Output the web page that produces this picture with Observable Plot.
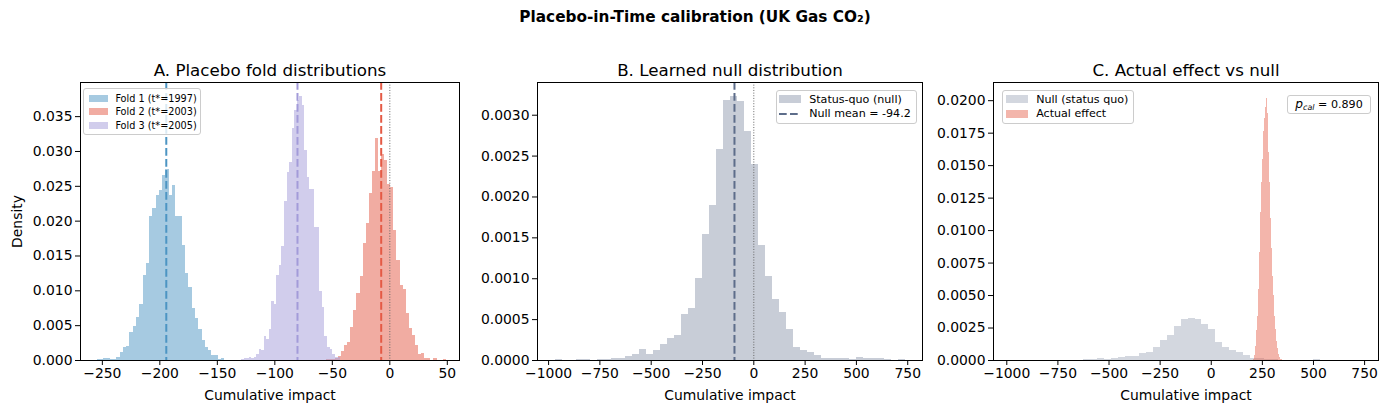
<!DOCTYPE html>
<html>
<head>
<meta charset="utf-8">
<script src="https://cdn.jsdelivr.net/npm/d3@7"></script>
<script src="https://cdn.jsdelivr.net/npm/@observablehq/plot@0.6"></script>
<style>
  body { margin: 0; background: #fff; font-family: "DejaVu Sans", sans-serif; }
  #fig { position: relative; width: 1390px; height: 413px; overflow: hidden; background: #fff; }
  .panel { position: absolute; top: 0; }
  .suptitle { position: absolute; top: 8px; left: 0; width: 1390px; text-align: center; font-weight: bold; font-size: 15.3px; line-height: 18px; }
  .legend { position: absolute; background: rgba(255,255,255,0.8); border: 1px solid #cccccc; border-radius: 3px; box-sizing: border-box; }
  .legend .row { position: absolute; display: flex; align-items: center; white-space: nowrap; }
  .pbox { position: absolute; background: rgba(255,255,255,0.8); border: 1px solid #cccccc; border-radius: 3px; box-sizing: border-box; font-size: 11.1px; white-space: nowrap; text-align: center; }
</style>
</head>
<body>
<div id="fig"></div>
<script>
// ---------------- data ----------------
const suptitle = "Placebo-in-Time calibration (UK Gas CO\u2082)";
const panelTitles = ["A. Placebo fold distributions", "B. Learned null distribution", "C. Actual effect vs null"];
const xLabel = "Cumulative impact";
const yLabel = "Density";

const foldLabels = ["Fold 1 (t*=1997)", "Fold 2 (t*=2003)", "Fold 3 (t*=2005)"];
const foldMeans = [-194.4, -7.5, -80.3];

const fold1Start = -254.5, fold1Width = 2.85;
const fold1Density = [0.0001, 0.0001, 0.0003, 0.0003, 0.0001, 0.0001, 0.0004, 0.0011, 0.0019, 0.0020,
  0.0040, 0.0049, 0.0062, 0.0080, 0.0122, 0.0139, 0.0207, 0.0218, 0.0237, 0.0244,
  0.0266, 0.0274, 0.0237, 0.0251, 0.0207, 0.0206, 0.0165, 0.0125, 0.0105, 0.0075,
  0.0060, 0.0044, 0.0029, 0.0019, 0.0015, 0.0007, 0.0007, 0.0002, 0.0003];

const fold2Start = -55.4, fold2Width = 2.68;
const fold2Density = [0.0001, 0.0001, 0.0002, 0.0003, 0.0006, 0.0013, 0.0022, 0.0026, 0.0047, 0.0072,
  0.0096, 0.0120, 0.0168, 0.0197, 0.0240, 0.0271, 0.0318, 0.0271, 0.0296, 0.0287,
  0.0252, 0.0249, 0.0187, 0.0143, 0.0108, 0.0102, 0.0068, 0.0046, 0.0036, 0.0022,
  0.0009, 0.0010, 0.0003, 0.0003, 0, 0.0003, 0, 0, 0.0001];

const fold3Start = -128.97, fold3Width = 2.2;
const fold3Density = [0.00014, 0.0003, 0.0003, 0.0004, 0.0003, 0.0004, 0.0009, 0.0016, 0.0014, 0.0034,
  0.0030, 0.0044, 0.0085, 0.0080, 0.0122, 0.0136, 0.0164, 0.0228, 0.0270, 0.0284,
  0.0333, 0.0359, 0.0373, 0.0379, 0.0366, 0.0301, 0.0263, 0.0245, 0.0245, 0.0191,
  0.0191, 0.0099, 0.0076, 0.0035, 0.0019, 0.0016, 0.0009, 0.0004, 0.0004];

const nullStart = -966, nullWidth = 34.1;
const nullDensity = [0.00001, 0, 0, 0.00001, 0.00001, 0, 0.00001, 0.00001, 0.00002, 0.00002,
  0.00005, 0.00007, 0.000135, 0.00007, 0.00012, 0.0002, 0.00027, 0.0003, 0.00056, 0.00063,
  0.0010, 0.00154, 0.0019, 0.00258, 0.00318, 0.00323, 0.00317, 0.0028, 0.0024, 0.00141,
  0.00103, 0.00074, 0.00059, 0.00038, 0.00016, 0.00012, 0.0001, 0.00006, 0.00003, 0.00003,
  0.00002, 0.00002, 0.00001, 0.00004, 0.00002, 0.00002, 0.00002, 0.00001, 0, 0.00001];
const nullMean = -94.2;

const actualStart = 208.3, actualWidth = 4.885;
const actualDensity = [0.0001, 0.0004, 0.0011, 0.0023, 0.0034, 0.0055, 0.0083, 0.0114, 0.0137, 0.0155,
  0.0176, 0.0186, 0.0195, 0.0202, 0.0190, 0.0160, 0.0137, 0.0109, 0.0086, 0.0065,
  0.0050, 0.0034, 0.0024, 0.0015, 0.0009, 0.0005, 0.0002, 0.0001, 0.0001];

const pCal = "0.890";
const legendB = ["Status-quo (null)", `Null mean = ${nullMean}`];
const legendC = ["Null (status quo)", "Actual effect"];

const xTicksA = [-250, -200, -150, -100, -50, 0, 50];
const yTicksA = [0, 0.005, 0.010, 0.015, 0.020, 0.025, 0.030, 0.035];
const xTicksBC = [-1000, -750, -500, -250, 0, 250, 500, 750];
const yTicksB = [0, 0.0005, 0.0010, 0.0015, 0.0020, 0.0025, 0.0030];
const yTicksC = [0, 0.0025, 0.0050, 0.0075, 0.0100, 0.0125, 0.0150, 0.0175, 0.0200];

// ---------------- styles ----------------
const foldColors = ["#4d95c3", "#e45a45", "#a39bd9"];
const foldAlpha = 0.5;
const nullColor = "#5d6d8a";
const actualColor = "#e45a45";

function toBins(start, width, dens) {
  return dens.map((d, i) => ({x1: start + i * width, x2: start + (i + 1) * width, d}));
}

const fig = document.getElementById("fig");
const st = document.createElement("div");
st.className = "suptitle";
st.textContent = suptitle;
fig.appendChild(st);

const FONT = "DejaVu Sans";
const common = {
  height: 413, marginTop: 82, marginBottom: 53,
  style: {fontFamily: FONT, fontSize: "13.9px", color: "black", background: "transparent", overflow: "visible"}
};
function xAxis(ticks) {
  return Plot.axisX({ticks, tickFormat: d3.format("d"), tickSize: 5, tickPadding: 3, fontSize: 13.9,
    label: xLabel, labelAnchor: "center", labelArrow: "none", labelOffset: 39});
}
function yAxis(ticks, fmt, label) {
  return Plot.axisY({ticks, tickFormat: d3.format(fmt), tickSize: 5, tickPadding: 3, fontSize: 13.9,
    label: label, labelAnchor: "center", labelArrow: "none", labelOffset: 68});
}
function titleMark(t) {
  return Plot.text([t], {frameAnchor: "top", lineAnchor: "bottom", dy: -7, fontSize: 16.7});
}
function hist(bins, color, alpha) {
  return Plot.rectY(bins, {x1: "x1", x2: "x2", y: "d", fill: color, fillOpacity: alpha, inset: 0, shapeRendering: "crispEdges"});
}

// Panel A
const panelA = Plot.plot({
  ...common, width: 490, marginLeft: 80, marginRight: 31,
  x: {domain: [-269, 60.6]},
  y: {domain: [0, 0.0399]},
  marks: [
    hist(toBins(fold1Start, fold1Width, fold1Density), foldColors[0], foldAlpha),
    hist(toBins(fold2Start, fold2Width, fold2Density), foldColors[1], foldAlpha),
    hist(toBins(fold3Start, fold3Width, fold3Density), foldColors[2], foldAlpha),
    Plot.ruleX(foldMeans.map((m, i) => ({m, c: foldColors[i]})), {x: "m", stroke: d => d.c, strokeWidth: 2, strokeDasharray: "7.7,3.3"}),
    Plot.ruleX([0], {stroke: "#666", strokeWidth: 1, strokeDasharray: "1,1.65"}),
    Plot.frame({stroke: "black", strokeWidth: 1}),
    xAxis(xTicksA),
    yAxis(yTicksA, ".3f", yLabel),
    titleMark(panelTitles[0])
  ]
});
panelA.classList.add("panel");
panelA.style.left = "0px";
fig.appendChild(panelA);

// Panel B
const panelB = Plot.plot({
  ...common, width: 450, marginLeft: 47, marginRight: 18,
  x: {domain: [-1054, 822]},
  y: {domain: [0, 0.0034]},
  marks: [
    hist(toBins(nullStart, nullWidth, nullDensity), nullColor, 0.34),
    Plot.ruleX([nullMean], {stroke: nullColor, strokeWidth: 2, strokeDasharray: "7.7,3.3"}),
    Plot.ruleX([0], {stroke: "#666", strokeWidth: 1, strokeDasharray: "1,1.65"}),
    Plot.frame({stroke: "black", strokeWidth: 1}),
    xAxis(xTicksBC),
    yAxis(yTicksB, ".4f", null),
    titleMark(panelTitles[1])
  ]
});
panelB.classList.add("panel");
panelB.style.left = "490px";
fig.appendChild(panelB);

// Panel C
const panelC = Plot.plot({
  ...common, width: 450, marginLeft: 53, marginRight: 12,
  x: {domain: [-1065, 818]},
  y: {domain: [0, 0.0214]},
  marks: [
    hist(toBins(nullStart, nullWidth, nullDensity), nullColor, 0.27),
    hist(toBins(actualStart, actualWidth, actualDensity), actualColor, 0.45),
    Plot.frame({stroke: "black", strokeWidth: 1}),
    xAxis(xTicksBC),
    yAxis(yTicksC, ".4f", null),
    titleMark(panelTitles[2])
  ]
});
panelC.classList.add("panel");
panelC.style.left = "940px";
fig.appendChild(panelC);

// ---------------- legends ----------------
function legend(box, items) {
  const div = document.createElement("div");
  div.className = "legend";
  Object.assign(div.style, {left: box.left + "px", top: box.top + "px", width: box.width + "px", height: box.height + "px", fontSize: box.fontSize + "px"});
  items.forEach((it, i) => {
    const row = document.createElement("div");
    row.className = "row";
    Object.assign(row.style, {left: box.padLeft + "px", top: (box.padTop + i * box.rowH) + "px", height: box.rowH + "px"});
    let sw;
    if (it.type === "dash") {
      sw = document.createElementNS("http://www.w3.org/2000/svg", "svg");
      sw.setAttribute("width", box.swW); sw.setAttribute("height", 8);
      const ln = document.createElementNS("http://www.w3.org/2000/svg", "line");
      ln.setAttribute("x1", 0); ln.setAttribute("x2", box.swW); ln.setAttribute("y1", 4); ln.setAttribute("y2", 4);
      ln.setAttribute("stroke", it.color); ln.setAttribute("stroke-width", 2); ln.setAttribute("stroke-dasharray", "7.7,3.3");
      sw.appendChild(ln);
    } else {
      sw = document.createElement("div");
      Object.assign(sw.style, {width: box.swW + "px", height: box.swH + "px", background: it.color, opacity: it.alpha});
    }
    sw.style.marginRight = box.gap + "px";
    sw.style.flex = "none";
    row.appendChild(sw);
    const tx = document.createElement("span");
    tx.textContent = it.label;
    row.appendChild(tx);
    div.appendChild(row);
  });
  fig.appendChild(div);
}

legend({left: 83, top: 88, width: 118, height: 47, fontSize: 9.7, padLeft: 4.5, padTop: 2.5, rowH: 13.6, swW: 19.4, swH: 6.8, gap: 7.5},
  foldLabels.map((l, i) => ({label: l, color: foldColors[i], alpha: foldAlpha})));

legend({left: 776, top: 90, width: 141, height: 33.5, fontSize: 11.1, padLeft: 1.5, padTop: 1.2, rowH: 14.3, swW: 22.2, swH: 7.8, gap: 8.5},
  [{label: legendB[0], color: nullColor, alpha: 0.34}, {label: legendB[1], color: nullColor, type: "dash"}]);

legend({left: 1001.5, top: 90, width: 132, height: 33.5, fontSize: 11.1, padLeft: 3, padTop: 1.2, rowH: 14.3, swW: 22.2, swH: 7.8, gap: 8.5},
  [{label: legendC[0], color: nullColor, alpha: 0.27}, {label: legendC[1], color: actualColor, alpha: 0.45}]);

const pb = document.createElement("div");
pb.className = "pbox";
Object.assign(pb.style, {left: "1287px", top: "94.5px", width: "84px", height: "19.5px", lineHeight: "17px"});
pb.innerHTML = `<span><span style="font-style:italic;font-size:1.1em">p</span><span style="font-style:italic;font-size:0.72em;position:relative;top:0.3em">cal</span>&nbsp;= ${pCal}</span>`;
fig.appendChild(pb);
</script>
</body>
</html>
